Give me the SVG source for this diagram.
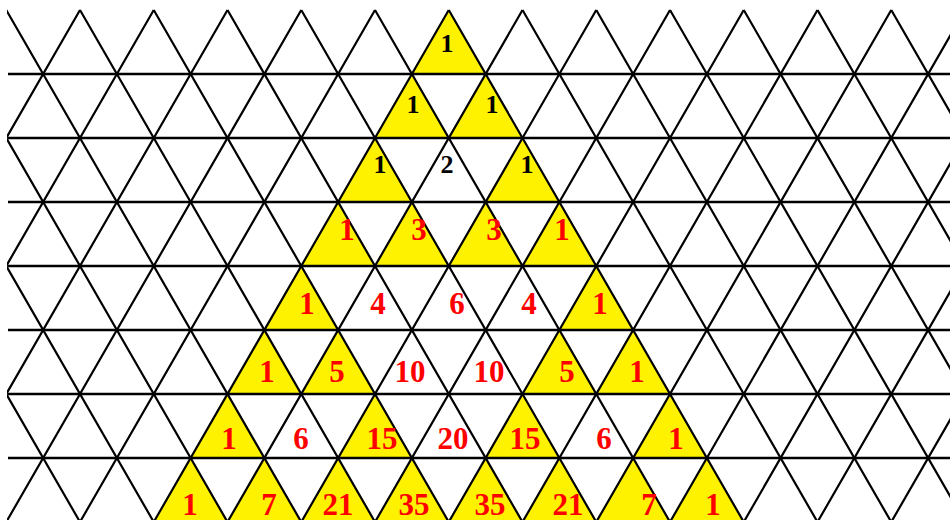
<svg xmlns="http://www.w3.org/2000/svg" width="950" height="520" viewBox="0 0 950 520">
<style>
.bg{fill:#ffffff}
.cell{fill:#FFF200;stroke:none}
.ln{stroke:#000;stroke-width:2.2;fill:none}
.hl{stroke:#000;stroke-width:2.4;fill:none}
.k{font-family:"Liberation Serif","Times New Roman",serif;font-weight:bold;font-size:26px;fill:#000;text-anchor:middle}
.r{font-family:"Liberation Serif","Times New Roman",serif;font-weight:bold;font-size:31px;fill:#FF0000;text-anchor:middle}
</style>
<defs>
<clipPath id="clip"><rect x="7" y="0" width="943" height="520"/></clipPath>
</defs>
<rect class="bg" x="0" y="0" width="950" height="520"/>
<g id="yellow-cells">
<polygon class="cell" points="448.75,10 411.875,74 485.625,74"/>
<polygon class="cell" points="411.875,74 375,138 448.75,138"/>
<polygon class="cell" points="485.625,74 448.75,138 522.5,138"/>
<polygon class="cell" points="375,138 338.125,202 411.875,202"/>
<polygon class="cell" points="522.5,138 485.625,202 559.375,202"/>
<polygon class="cell" points="338.125,202 301.25,266 375,266"/>
<polygon class="cell" points="411.875,202 375,266 448.75,266"/>
<polygon class="cell" points="485.625,202 448.75,266 522.5,266"/>
<polygon class="cell" points="559.375,202 522.5,266 596.25,266"/>
<polygon class="cell" points="301.25,266 264.375,330 338.125,330"/>
<polygon class="cell" points="596.25,266 559.375,330 633.125,330"/>
<polygon class="cell" points="264.375,330 227.5,394 301.25,394"/>
<polygon class="cell" points="338.125,330 301.25,394 375,394"/>
<polygon class="cell" points="559.375,330 522.5,394 596.25,394"/>
<polygon class="cell" points="633.125,330 596.25,394 670,394"/>
<polygon class="cell" points="227.5,394 190.625,458 264.375,458"/>
<polygon class="cell" points="375,394 338.125,458 411.875,458"/>
<polygon class="cell" points="522.5,394 485.625,458 559.375,458"/>
<polygon class="cell" points="670,394 633.125,458 706.875,458"/>
<polygon class="cell" points="190.625,458 153.75,522 227.5,522"/>
<polygon class="cell" points="264.375,458 227.5,522 301.25,522"/>
<polygon class="cell" points="338.125,458 301.25,522 375,522"/>
<polygon class="cell" points="411.875,458 375,522 448.75,522"/>
<polygon class="cell" points="485.625,458 448.75,522 522.5,522"/>
<polygon class="cell" points="559.375,458 522.5,522 596.25,522"/>
<polygon class="cell" points="633.125,458 596.25,522 670,522"/>
<polygon class="cell" points="706.875,458 670,522 743.75,522"/>
</g>
<g id="connectors" clip-path="url(#clip)">
<path class="hl" d="M8,74H950M8,138H950M8,202H950M8,266H950M8,330H950M8,394H950M8,458H950"/>
<path class="ln" d="M-215,10L80,522M-141.25,10L153.75,522M-67.5,10L227.5,522M6.25,10L301.25,522M80,10L375,522M153.75,10L448.75,522M227.5,10L522.5,522M301.25,10L596.25,522M375,10L670,522M448.75,10L743.75,522M522.5,10L817.5,522M596.25,10L891.25,522M670,10L965,522M743.75,10L1038.75,522M817.5,10L1112.5,522M891.25,10L1186.25,522"/>
<path class="ln" d="M6.25,10L-288.75,522M80,10L-215,522M153.75,10L-141.25,522M227.5,10L-67.5,522M301.25,10L6.25,522M375,10L80,522M448.75,10L153.75,522M522.5,10L227.5,522M596.25,10L301.25,522M670,10L375,522M743.75,10L448.75,522M817.5,10L522.5,522M891.25,10L596.25,522M965,10L670,522M1038.75,10L743.75,522M1112.5,10L817.5,522M1186.25,10L891.25,522"/>
</g>
<g id="row0"><text class="k" x="447" y="52">1</text></g>
<g id="row1"><text class="k" x="413" y="113">1</text><text class="k" x="492" y="113">1</text></g>
<g id="row2"><text class="k" x="380" y="173">1</text><text class="k" x="447" y="173">2</text><text class="k" x="527" y="173">1</text></g>
<g id="row3"><text class="r" x="347" y="240">1</text><text class="r" x="419" y="240">3</text><text class="r" x="494" y="240">3</text><text class="r" x="562" y="240">1</text></g>
<g id="row4"><text class="r" x="307" y="314">1</text><text class="r" x="378" y="314">4</text><text class="r" x="457" y="314">6</text><text class="r" x="529" y="314">4</text><text class="r" x="600" y="314">1</text></g>
<g id="row5"><text class="r" x="267" y="382">1</text><text class="r" x="337" y="382">5</text><text class="r" x="410" y="382">10</text><text class="r" x="489" y="382">10</text><text class="r" x="567" y="382">5</text><text class="r" x="637" y="382">1</text></g>
<g id="row6"><text class="r" x="229" y="449">1</text><text class="r" x="301" y="449">6</text><text class="r" x="382" y="449">15</text><text class="r" x="453" y="449">20</text><text class="r" x="525" y="449">15</text><text class="r" x="604" y="449">6</text><text class="r" x="676" y="449">1</text></g>
<g id="row7"><text class="r" x="190" y="515">1</text><text class="r" x="269" y="515">7</text><text class="r" x="338" y="515">21</text><text class="r" x="414" y="515">35</text><text class="r" x="490" y="515">35</text><text class="r" x="568" y="515">21</text><text class="r" x="649" y="515">7</text><text class="r" x="713" y="515">1</text></g>
</svg>
